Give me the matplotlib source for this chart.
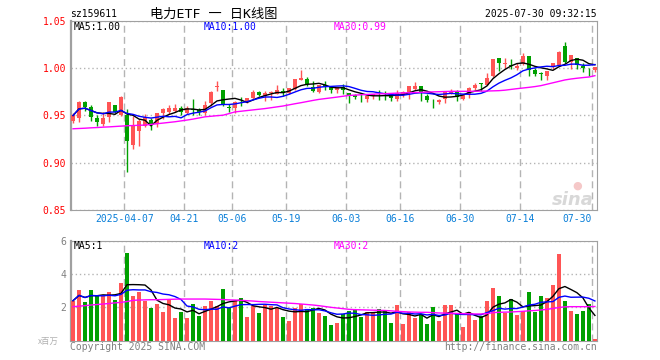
import matplotlib
matplotlib.use('Agg')
import matplotlib.pyplot as plt
import pandas as pd

plt.rcParams['font.family'] = ['DejaVu Sans Mono', 'Noto Sans CJK SC']

# daily OHLC, 2025-03-24 .. 2025-07-30
opens = [0.944, 0.947, 0.964, 0.959, 0.947, 0.941, 0.948, 0.961, 0.950, 0.950,
         0.9191, 0.934, 0.9392, 0.945, 0.941, 0.9531, 0.9538, 0.955, 0.9583, 0.9531,
         0.9573, 0.9559, 0.9531, 0.9628, 0.9802, 0.9774, 0.9585, 0.9583, 0.9665, 0.9642,
         0.9688, 0.9747, 0.9705, 0.974, 0.9722, 0.9757, 0.974, 0.978, 0.9878, 0.9885,
         0.9799, 0.9747, 0.9826, 0.9802, 0.9767, 0.9799, 0.974, 0.9715, 0.9699, 0.9677,
         0.9705, 0.9715, 0.9715, 0.9705, 0.967, 0.972, 0.9747, 0.9781, 0.9816, 0.9705,
         0.9645, 0.9642, 0.967, 0.974, 0.9757, 0.9677, 0.9729, 0.9792, 0.9837, 0.9826,
         0.9913, 1.0104, 1.0048, 1.0035, 1.000, 1.0045, 1.0128, 0.9983, 0.9943, 0.992,
         1.001, 1.0035, 1.0233, 1.0069, 1.0104, 1.0024, 0.9992, 0.9976]
highs = [0.953, 0.965, 0.965, 0.961, 0.951, 0.954, 0.964, 0.961, 0.9705, 0.9566,
         0.949, 0.946, 0.9514, 0.947, 0.9524, 0.9576, 0.9608, 0.9618, 0.9601, 0.9601,
         0.967, 0.9576, 0.9653, 0.9757, 0.9861, 0.9774, 0.9618, 0.9653, 0.9698, 0.9688,
         0.9767, 0.9757, 0.9757, 0.9757, 0.9826, 0.979, 0.9792, 0.9885, 0.9983, 0.9906,
         0.9861, 0.9826, 0.9861, 0.9802, 0.9802, 0.9837, 0.974, 0.9722, 0.9722, 0.9705,
         0.9729, 0.9764, 0.9757, 0.9722, 0.9767, 0.976, 0.9809, 0.985, 0.9816, 0.9722,
         0.967, 0.9677, 0.9757, 0.9781, 0.9774, 0.9722, 0.9802, 0.9844, 0.9844, 0.9948,
         1.0094, 1.0104, 1.0104, 1.0094, 1.0052, 1.0156, 1.0128, 1.000, 0.9955, 0.9965,
         1.0052, 1.0184, 1.0278, 1.0139, 1.0104, 1.0052, 1.000, 1.001]
lows = [0.942, 0.943, 0.955, 0.944, 0.9385, 0.9385, 0.9434, 0.953, 0.949, 0.8906,
        0.915, 0.9174, 0.9375, 0.935, 0.9375, 0.9462, 0.9514, 0.9538, 0.950, 0.9514,
        0.950, 0.9503, 0.9503, 0.9601, 0.9757, 0.9601, 0.9538, 0.9531, 0.9601, 0.9635,
        0.9677, 0.9705, 0.9653, 0.966, 0.9722, 0.9705, 0.9722, 0.9774, 0.9871, 0.9816,
        0.9746, 0.9733, 0.9767, 0.9733, 0.9733, 0.9722, 0.9628, 0.9677, 0.9642, 0.9642,
        0.967, 0.966, 0.9663, 0.9653, 0.9653, 0.970, 0.9677, 0.9774, 0.9653, 0.9642,
        0.9583, 0.9618, 0.9628, 0.9722, 0.9653, 0.9663, 0.9688, 0.9774, 0.9757, 0.9826,
        0.9906, 0.9965, 1.000, 0.999, 0.9976, 1.0035, 0.992, 0.9913, 0.9872, 0.9872,
        0.999, 1.0024, 1.0052, 0.999, 0.999, 0.9955, 0.9913, 0.9955]
closes = [0.950, 0.964, 0.959, 0.948, 0.943, 0.947, 0.964, 0.954, 0.9694, 0.9236,
          0.940, 0.944, 0.948, 0.940, 0.9524, 0.9566, 0.9583, 0.9583, 0.9538, 0.9576,
          0.9559, 0.9538, 0.9608, 0.9747, 0.9816, 0.9618, 0.958, 0.9642, 0.9661, 0.9688,
          0.9747, 0.9712, 0.974, 0.975, 0.9764, 0.974, 0.9792, 0.9885, 0.9896, 0.9833,
          0.9757, 0.9826, 0.9802, 0.9774, 0.9799, 0.9767, 0.9712, 0.9698, 0.9695, 0.9705,
          0.9729, 0.9712, 0.9708, 0.9688, 0.974, 0.975, 0.9809, 0.9816, 0.9747, 0.966,
          0.964, 0.9663, 0.9757, 0.9757, 0.9694, 0.9712, 0.9792, 0.9826, 0.9833, 0.9896,
          1.0094, 1.0052, 1.0052, 1.0017, 1.0024, 1.0128, 0.9983, 0.9941, 0.994, 0.9965,
          1.0052, 1.0174, 1.0069, 1.0139, 1.0035, 1.000, 0.999, 1.001]
# 30-day average as drawn (needs data from before the window)
ma30 = [0.936, 0.9363, 0.9366, 0.937, 0.9373, 0.9377, 0.938, 0.9384, 0.9388, 0.9392,
        0.9394, 0.9397, 0.9399, 0.9406, 0.9413, 0.942, 0.9427, 0.9434, 0.9443, 0.9452,
        0.9462, 0.9474, 0.9486, 0.9492, 0.9498, 0.9503, 0.952, 0.9538, 0.9545, 0.9552,
        0.9559, 0.9566, 0.9573, 0.9582, 0.9591, 0.960, 0.9612, 0.9624, 0.9635, 0.9647,
        0.9659, 0.967, 0.9678, 0.9686, 0.9694, 0.9703, 0.9712, 0.9715, 0.9719, 0.9722,
        0.9725, 0.9728, 0.973, 0.9733, 0.9736, 0.9738, 0.974, 0.9742, 0.9745, 0.9747,
        0.9749, 0.9751, 0.9753, 0.9755, 0.9755, 0.9755, 0.9755, 0.9756, 0.9757, 0.9758,
        0.976, 0.9762, 0.9767, 0.9775, 0.9783, 0.979, 0.9797, 0.9805, 0.9815, 0.983,
        0.9845, 0.986, 0.9875, 0.9885, 0.9893, 0.990, 0.9906, 0.992]
# volume, millions
volume = [2.4, 3.04, 2.34, 3.06, 2.66, 2.66, 2.94, 2.46, 3.48, 5.28,
          2.7, 2.9, 2.36, 1.98, 2.22, 1.7, 2.5, 1.38, 1.7, 1.34,
          2.18, 1.46, 2.1, 2.36, 2.1, 3.12, 1.96, 2.4, 2.58, 1.44,
          2.1, 1.64, 2.16, 2.1, 1.96, 1.44, 1.2, 1.94, 2.22, 1.88,
          1.96, 1.68, 1.46, 0.96, 1.08, 1.6, 1.76, 1.82, 1.44, 1.74,
          1.64, 1.92, 1.86, 1.08, 2.16, 1.02, 1.74, 1.38, 1.58, 1.02,
          2.04, 1.2, 2.16, 2.16, 1.58, 0.84, 1.74, 1.26, 1.5, 2.36,
          3.18, 2.66, 1.64, 2.52, 1.56, 1.76, 2.94, 1.74, 2.7, 2.58,
          3.36, 5.24, 2.4, 1.8, 1.62, 1.8, 2.22, 0.12]
vol_ma30 = [2.04, 2.07, 2.1, 2.14, 2.17, 2.2, 2.23, 2.27, 2.3, 2.35,
            2.42, 2.44, 2.45, 2.46, 2.46, 2.47, 2.48, 2.49, 2.5, 2.5,
            2.5, 2.5, 2.5, 2.49, 2.48, 2.47, 2.45, 2.44, 2.42, 2.4,
            2.38, 2.35, 2.33, 2.31, 2.29, 2.27, 2.25, 2.23, 2.2, 2.17,
            2.14, 2.1, 2.05, 2.0, 1.96, 1.92, 1.88, 1.86, 1.85, 1.84,
            1.83, 1.82, 1.81, 1.79, 1.76, 1.74, 1.72, 1.71, 1.7, 1.7,
            1.68, 1.66, 1.65, 1.64, 1.63, 1.62, 1.61, 1.6, 1.6, 1.62,
            1.68, 1.7, 1.71, 1.72, 1.74, 1.76, 1.79, 1.81, 1.84, 1.88,
            1.93, 1.99, 2.03, 2.04, 2.04, 2.04, 2.04, 2.05]
tick_idx = [9, 19, 27, 36, 46, 55, 65, 75, 87]
tick_labels = ['2025-04-07', '04-21', '05-06', '05-19', '06-03', '06-16', '06-30', '07-14', '07-30']

df = pd.DataFrame({'o': opens, 'h': highs, 'l': lows, 'c': closes, 'v': volume})
df['ma5'] = df['c'].rolling(5, min_periods=1).mean()
df['ma10'] = df['c'].rolling(10, min_periods=1).mean()
df['vma5'] = df['v'].rolling(5, min_periods=1).mean()
df['vma10'] = df['v'].rolling(10, min_periods=1).mean()
x = list(range(len(df)))
up = df['c'] >= df['o']
RED, GREEN = '#ff5555', '#00a000'
colors = [RED if u else GREEN for u in up]

W, H = 660, 360
def fx(px):
    return px / W
def fy(py):
    return 1 - py / H

fig = plt.figure(figsize=(6.6, 3.6), dpi=100)
ax = fig.add_axes([fx(70.5), fy(210.3), fx(526.2), 189.6 / H])
axv = fig.add_axes([fx(70.5), fy(340.5), fx(526.2), 99.5 / H])

# candles
ax.vlines(x, df['l'], df['h'], colors=colors, linewidth=1, zorder=3)
body_lo = df[['o', 'c']].min(axis=1)
body_h = (df['c'] - df['o']).abs().clip(lower=0.0005)
ax.bar(x, body_h, bottom=body_lo, width=0.7, color=colors, linewidth=0, zorder=4)
ax.plot(x, df['ma5'], color='black', lw=1, zorder=5)
ax.plot(x, df['ma10'], color='#0000ff', lw=1, zorder=5)
ax.plot(x, ma30, color='#ff00ff', lw=1, zorder=5)

# volume
axv.bar(x, df['v'], width=0.72, color=colors, linewidth=0, zorder=3)
axv.plot(x, df['vma5'], color='black', lw=1, zorder=5)
axv.plot(x, df['vma10'], color='#0000ff', lw=1, zorder=5)
axv.plot(x, vol_ma30, color='#ff00ff', lw=1, zorder=5)

ticks = [i - 0.45 for i in tick_idx]
for a in (ax, axv):
    a.set_xlim(-0.42, 87.3)
    a.set_xticks(ticks)
    for s in a.spines.values():
        s.set_color('#a0a0a0')
    a.spines['left'].set_linewidth(1.6)
    a.grid(axis='x', color='#b4b4b4', linestyle=(0, (5, 3)), linewidth=1)
    a.grid(axis='y', color='#b4b4b4', linestyle=(0, (1, 2)), linewidth=1)
    a.set_axisbelow(True)
    a.tick_params(length=0)

ax.set_ylim(0.85, 1.05)
ax.set_yticks([0.85, 0.90, 0.95, 1.00, 1.05])
ax.set_yticklabels(['%.2f' % v for v in [0.85, 0.90, 0.95, 1.00, 1.05]])
ax.tick_params(axis='y', colors='red', labelsize=7, pad=3)
ax.set_xticklabels(tick_labels)
ax.tick_params(axis='x', colors='#0a7fd8', labelsize=7, pad=3)
ax.get_xticklabels()[-1].set_horizontalalignment('right')

axv.set_ylim(0, 6)
axv.set_yticks([2, 4, 6])
axv.set_yticklabels(['2', '4', '6'])
axv.tick_params(axis='y', colors='#808080', labelsize=7, pad=3)
axv.set_xticklabels([])

# header texts
fs = 7
fig.text(fx(70), fy(14), 'sz159611', fontsize=fs, va='center')
fig.text(fx(150), fy(14), '电力ETF 一 日K线图', fontsize=9.5, va='center')
fig.text(fx(597), fy(14), '2025-07-30 09:32:15', fontsize=fs, va='center', ha='right')
fig.text(fx(74), fy(27), 'MA5:%.2f' % df['ma5'].iloc[-1], fontsize=fs, va='center', color='black')
fig.text(fx(204), fy(27), 'MA10:%.2f' % df['ma10'].iloc[-1], fontsize=fs, va='center', color='#0000ff')
fig.text(fx(334), fy(27), 'MA30:%.2f' % ma30[-1], fontsize=fs, va='center', color='#ff00ff')
fig.text(fx(74), fy(246), 'MA5:%d' % int(df['vma5'].iloc[-1]), fontsize=fs, va='center', color='black')
fig.text(fx(204), fy(246), 'MA10:%d' % int(df['vma10'].iloc[-1]), fontsize=fs, va='center', color='#0000ff')
fig.text(fx(334), fy(246), 'MA30:%d' % int(vol_ma30[-1]), fontsize=fs, va='center', color='#ff00ff')

# footer
fig.text(fx(70), fy(347), 'Copyright 2025 SINA.COM', fontsize=fs, va='center', color='#808080')
fig.text(fx(597), fy(347), 'http://finance.sina.com.cn', fontsize=fs, va='center', ha='right', color='#808080')
fig.text(fx(38), fy(341), 'x百万', fontsize=6, va='center', color='#b0b0b0',
         family=['Noto Sans CJK SC', 'DejaVu Sans'])

# watermark
fig.text(fx(594), fy(200), 'sina', fontsize=13, va='center', ha='right', color='#d8d8d8',
         style='italic', weight='bold', family='DejaVu Sans')
fig.text(fx(577), fy(186), '●', fontsize=8, va='center', ha='center', color='#f5c8c8',
         family='DejaVu Sans')

fig.savefig('out.png', dpi=100)
